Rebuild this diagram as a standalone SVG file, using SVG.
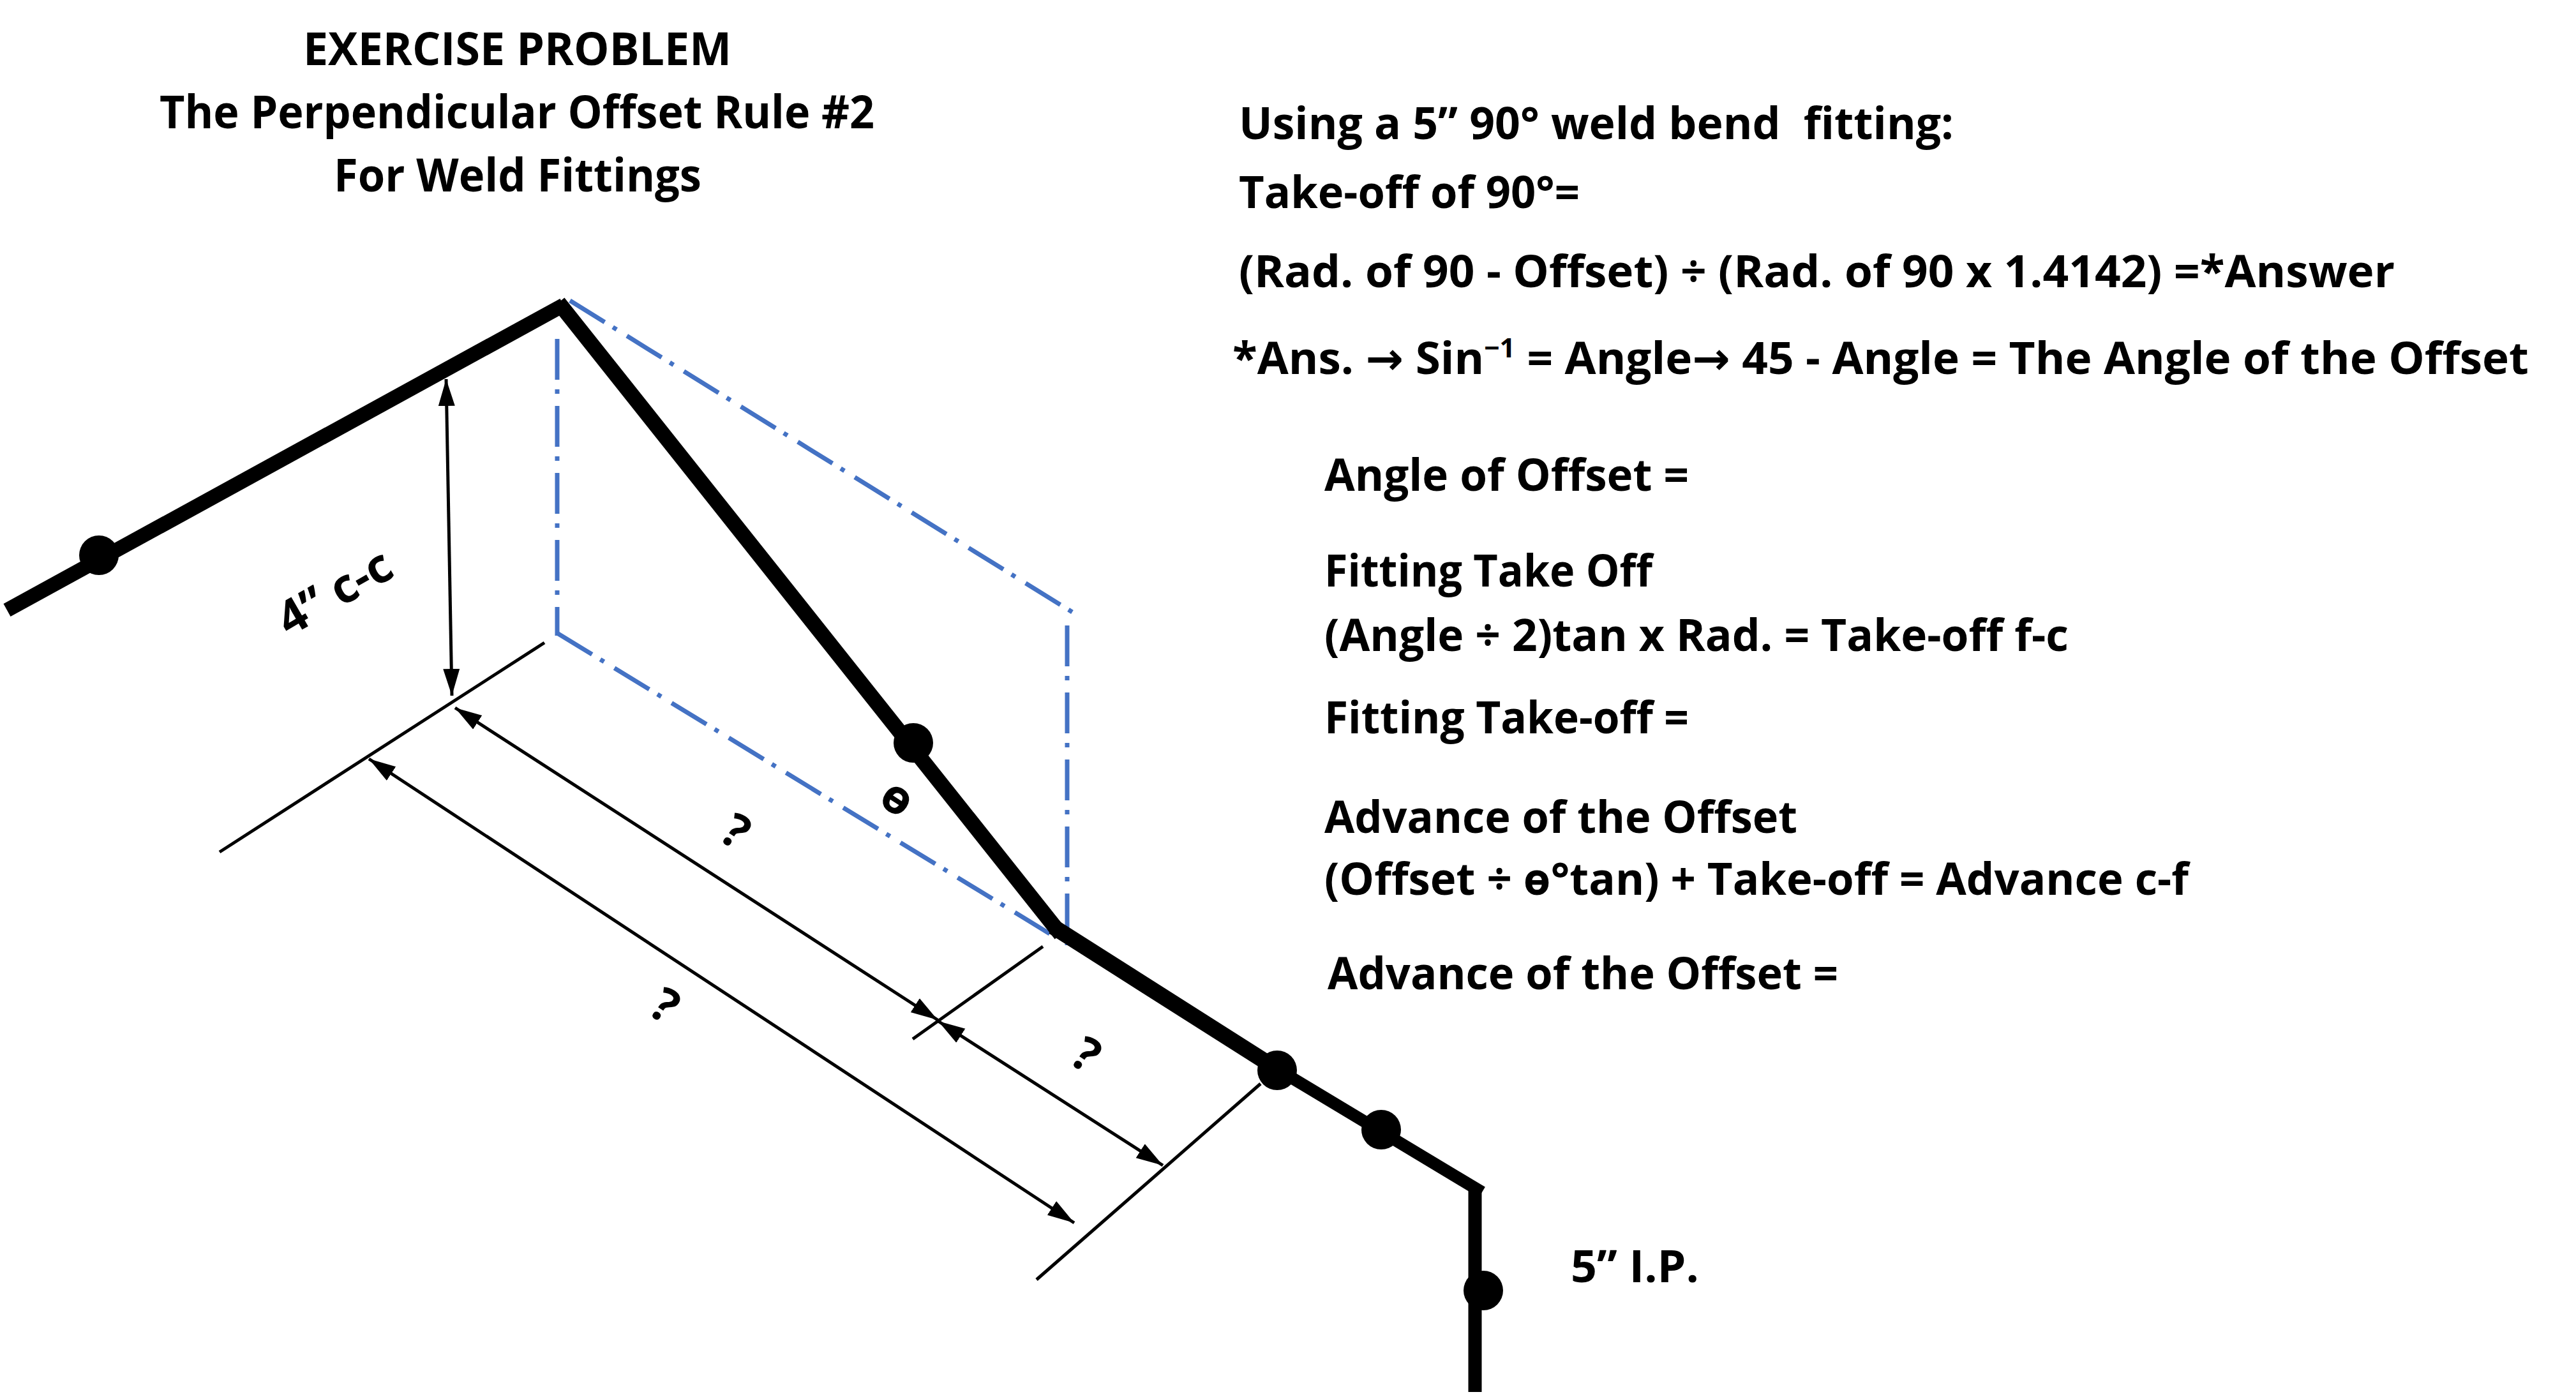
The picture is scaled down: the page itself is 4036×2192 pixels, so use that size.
<svg xmlns="http://www.w3.org/2000/svg" width="4036" height="2192" viewBox="0 0 4036 2192">
<style>
text{font-family:"Open Sans","Noto Sans","DejaVu Sans",sans-serif;font-weight:700;fill:#000}
.t{font-size:72px}
.b{font-size:70px}
.q{font-size:74px}
.pipe{fill:none;stroke:#000;stroke-linecap:butt;stroke-linejoin:miter}
.blue{fill:none;stroke:#4472C4;stroke-width:7;stroke-dasharray:64 15 7 19}
.tick{fill:none;stroke:#000;stroke-width:5}
.dim{fill:none;stroke:#000;stroke-width:5;marker-start:url(#ah);marker-end:url(#ah)}
.dot{fill:#000}
</style>
<defs>
<marker id="ah" markerUnits="userSpaceOnUse" markerWidth="44" markerHeight="30" refX="42" refY="15" orient="auto-start-reverse">
<path d="M0 2 L42 15 L0 28 Z" fill="#000"/>
</marker>
</defs>
<rect width="4036" height="2192" fill="#fff"/>
<g id="connectors">
<g id="reference-lines">
<path class="blue" d="M893 471 L1688 964"/>
<path class="blue" d="M873 531 V996"/>
<path class="blue" d="M873 992 L1648 1465"/>
<path class="blue" d="M1672 980 V1481"/>
</g>
<g id="pipe">
<path class="pipe" stroke-width="23" d="M11 956 L883 478"/>
<path class="pipe" stroke-width="24" d="M875 474 L1662 1464"/>
<path class="pipe" stroke-width="25" d="M1650 1452 L2001 1675"/>
<path class="pipe" stroke-width="19" d="M2001 1675 L2322 1868"/>
<path class="pipe" stroke-width="21" d="M2311 1858 V2181"/>
</g>
<g id="extension-lines">
<path class="tick" d="M853 1007 L344 1335"/>
<path class="tick" d="M1634 1483 L1430 1628"/>
<path class="tick" d="M1975 1698 L1624 2005"/>
</g>
<g id="dimensions">
<path class="dim" d="M699 594 L708 1090"/>
<path class="dim" d="M713 1109 L1469 1598"/>
<path class="dim" d="M1470 1600 L1822 1826"/>
<path class="dim" d="M578 1189 L1683 1916"/>
</g>
</g>
<g id="node-1"><circle class="dot" cx="155" cy="870" r="31"/></g>
<g id="node-2"><circle class="dot" cx="1431" cy="1164" r="31"/></g>
<g id="node-3"><circle class="dot" cx="2001" cy="1677" r="31"/></g>
<g id="node-4"><circle class="dot" cx="2164" cy="1770" r="31"/></g>
<g id="node-5"><circle class="dot" cx="2324" cy="2022" r="31"/></g>
<g id="title">
<text class="t" x="475" y="102" textLength="671" lengthAdjust="spacingAndGlyphs">EXERCISE PROBLEM</text>
<text class="t" x="250" y="201" textLength="1120" lengthAdjust="spacingAndGlyphs">The Perpendicular Offset Rule #2</text>
<text class="t" x="523" y="300" textLength="576" lengthAdjust="spacingAndGlyphs">For Weld Fittings</text>
</g>
<g id="formulas">
<text class="b" x="1941" y="218" textLength="1120" lengthAdjust="spacingAndGlyphs" xml:space="preserve">Using a 5” 90° weld bend  fitting:</text>
<text class="b" x="1941" y="326" textLength="534" lengthAdjust="spacingAndGlyphs">Take-off of 90°=</text>
<text class="b" x="1941" y="450" textLength="1811" lengthAdjust="spacingAndGlyphs">(Rad. of 90 - Offset) ÷ (Rad. of 90 x 1.4142) =*Answer</text>
<text class="b" x="1931" y="586" textLength="2031" lengthAdjust="spacingAndGlyphs">*Ans. → Sin<tspan font-size="42" dy="-26">−1</tspan><tspan dy="26"> = Angle→ 45 - Angle = The Angle of the Offset</tspan></text>
<text class="b" x="2075" y="769" textLength="571" lengthAdjust="spacingAndGlyphs">Angle of Offset =</text>
<text class="b" x="2075" y="919" textLength="514" lengthAdjust="spacingAndGlyphs">Fitting Take Off</text>
<text class="b" x="2075" y="1020" textLength="1166" lengthAdjust="spacingAndGlyphs">(Angle ÷ 2)tan x Rad. = Take-off f-c</text>
<text class="b" x="2075" y="1149" textLength="571" lengthAdjust="spacingAndGlyphs">Fitting Take-off =</text>
<text class="b" x="2075" y="1305" textLength="741" lengthAdjust="spacingAndGlyphs">Advance of the Offset</text>
<text class="b" x="2075" y="1402" textLength="1354" lengthAdjust="spacingAndGlyphs">(Offset ÷ ɵ°tan) + Take-off = Advance c-f</text>
<text class="b" x="2080" y="1550" textLength="800" lengthAdjust="spacingAndGlyphs">Advance of the Offset =</text>
<text class="b" x="2461" y="2009" textLength="201" lengthAdjust="spacingAndGlyphs">5” I.P.</text>
</g>
<g id="dimension-labels">
<text class="q" text-anchor="middle" transform="translate(537 950) rotate(-30)">4” c-c</text>
<text class="q" text-anchor="middle" transform="translate(1139 1324) rotate(33)">?</text>
<text class="q" text-anchor="middle" transform="translate(1028 1597) rotate(33)">?</text>
<text class="q" text-anchor="middle" transform="translate(1688 1674) rotate(33)">?</text>
<text class="q" text-anchor="middle" transform="translate(1393 1271) rotate(33)">ɵ</text>
</g>
</svg>
